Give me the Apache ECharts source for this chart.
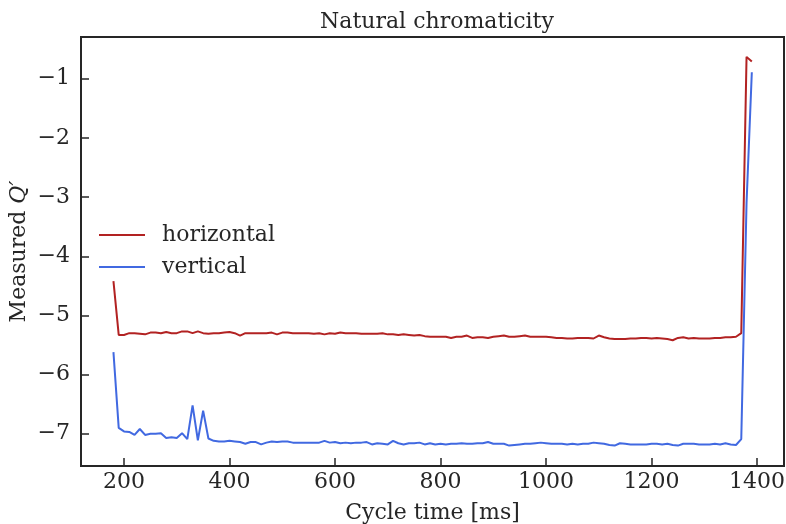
<!DOCTYPE html>
<html>
<head>
<meta charset="utf-8">
<script src="https://cdn.jsdelivr.net/npm/echarts@6/dist/echarts.min.js"></script>
<style>html,body{margin:0;padding:0;background:#fff}#c{width:786px;height:524px}</style>
</head>
<body>
<div id="c"></div>
<script>
// Cycle time [ms]: 180 .. 1390 in 10 ms steps
const cycleTime = [];
for (let t = 180; t <= 1390; t += 10) cycleTime.push(t);

const horizontal = [
  -4.42, -5.33, -5.33, -5.30, -5.30, -5.31, -5.32, -5.29, -5.29, -5.30,
  -5.28, -5.30, -5.30, -5.27, -5.27, -5.30, -5.27, -5.30, -5.31, -5.30,
  -5.30, -5.29, -5.28, -5.30, -5.34, -5.30, -5.30, -5.30, -5.30, -5.30,
  -5.29, -5.32, -5.29, -5.29, -5.30, -5.30, -5.30, -5.30, -5.31, -5.30,
  -5.32, -5.30, -5.31, -5.29, -5.30, -5.30, -5.30, -5.31, -5.31, -5.31,
  -5.31, -5.30, -5.32, -5.32, -5.33, -5.32, -5.33, -5.34, -5.33, -5.35,
  -5.36, -5.36, -5.36, -5.36, -5.38, -5.36, -5.36, -5.34, -5.38, -5.37,
  -5.37, -5.38, -5.36, -5.35, -5.34, -5.36, -5.36, -5.35, -5.34, -5.36,
  -5.36, -5.36, -5.36, -5.37, -5.38, -5.38, -5.39, -5.39, -5.38, -5.38,
  -5.38, -5.39, -5.34, -5.37, -5.39, -5.40, -5.40, -5.40, -5.39, -5.39,
  -5.38, -5.38, -5.39, -5.38, -5.39, -5.40, -5.42, -5.38, -5.37, -5.39,
  -5.38, -5.39, -5.39, -5.39, -5.38, -5.38, -5.37, -5.37, -5.36, -5.30,
  -0.63, -0.71
];

const vertical = [
  -5.62, -6.90, -6.96, -6.97, -7.02, -6.92, -7.02, -7.00, -7.00, -6.99,
  -7.07, -7.06, -7.07, -6.99, -7.09, -6.52, -7.11, -6.61, -7.08, -7.12,
  -7.13, -7.13, -7.12, -7.13, -7.14, -7.17, -7.14, -7.14, -7.18, -7.15,
  -7.13, -7.14, -7.13, -7.13, -7.15, -7.15, -7.15, -7.15, -7.15, -7.15,
  -7.12, -7.15, -7.14, -7.16, -7.15, -7.16, -7.15, -7.15, -7.14, -7.18,
  -7.16, -7.17, -7.18, -7.12, -7.16, -7.18, -7.16, -7.16, -7.15, -7.18,
  -7.16, -7.18, -7.17, -7.18, -7.17, -7.17, -7.16, -7.17, -7.17, -7.16,
  -7.16, -7.14, -7.17, -7.17, -7.17, -7.20, -7.19, -7.18, -7.17, -7.17,
  -7.16, -7.15, -7.16, -7.17, -7.17, -7.17, -7.18, -7.17, -7.18, -7.17,
  -7.17, -7.15, -7.16, -7.17, -7.19, -7.20, -7.16, -7.17, -7.18, -7.18,
  -7.18, -7.18, -7.17, -7.17, -7.18, -7.17, -7.19, -7.20, -7.17, -7.17,
  -7.17, -7.18, -7.18, -7.18, -7.17, -7.18, -7.16, -7.18, -7.19, -7.09,
  -3.10, -0.89
];

const xTicks = [200, 400, 600, 800, 1000, 1200, 1400];
const yTicks = [-7, -6, -5, -4, -3, -2, -1];

const FONT = 'DejaVu Serif';
const TXT = '#262626';
const FS = 22;

const chart = echarts.init(document.getElementById('c'), null, {renderer: 'canvas'});
const pairs = arr => cycleTime.map((t, i) => [t, arr[i]]);

chart.setOption({
  animation: false,
  backgroundColor: '#ffffff',
  title: {
    text: 'Natural chromaticity',
    left: 432, top: 6, textAlign: 'center',
    textStyle: {fontFamily: FONT, fontSize: FS, fontWeight: 'normal', color: TXT}
  },
  legend: {
    data: ['horizontal', 'vertical'],
    orient: 'vertical',
    left: 99, top: 224,
    itemWidth: 46, itemHeight: 2, itemGap: 10,
    icon: 'rect',
    padding: 0,
    textStyle: {fontFamily: FONT, fontSize: FS, color: TXT, padding: [0, 0, 0, 12]}
  },
  grid: {
    left: 81, right: 2, top: 37, bottom: 58,
    outerBoundsMode: 'none',
    containLabel: false,
    show: true, borderColor: '#262626', borderWidth: 2, backgroundColor: 'transparent'
  },
  xAxis: {
    type: 'value', min: 118.5, max: 1451,
    name: 'Cycle time [ms]', nameLocation: 'middle', nameGap: 36,
    nameMoveOverlap: false,
    nameTextStyle: {fontFamily: FONT, fontSize: FS, color: TXT},
    axisLine: {show: false},
    splitLine: {show: false},
    axisTick: {show: true, inside: true, length: 8, lineStyle: {color: '#262626', width: 1.5}, customValues: xTicks},
    axisLabel: {fontFamily: FONT, fontSize: FS, color: TXT, margin: 5, customValues: xTicks,
      formatter: v => String(v)}
  },
  yAxis: {
    type: 'value', min: -7.545, max: -0.294,
    name: 'Measured {i|Q′}', nameLocation: 'middle', nameGap: 51, nameRotate: 90,
    nameMoveOverlap: false,
    nameTextStyle: {fontFamily: FONT, fontSize: FS, color: TXT,
      rich: {i: {fontFamily: FONT, fontStyle: 'italic', fontSize: FS, color: TXT}}},
    axisLine: {show: false},
    splitLine: {show: false},
    axisTick: {show: true, inside: true, length: 8, lineStyle: {color: '#262626', width: 1.5}, customValues: yTicks},
    axisLabel: {fontFamily: FONT, fontSize: FS, color: TXT, margin: 11, customValues: yTicks,
      formatter: v => String(v).replace('-', '\u2212')}
  },
  series: [
    {name: 'horizontal', type: 'line', data: pairs(horizontal), showSymbol: false,
     color: '#b22222', lineStyle: {width: 2, color: '#b22222'}},
    {name: 'vertical', type: 'line', data: pairs(vertical), showSymbol: false,
     color: '#4169e1', lineStyle: {width: 2, color: '#4169e1'}}
  ]
});
</script>
</body>
</html>
